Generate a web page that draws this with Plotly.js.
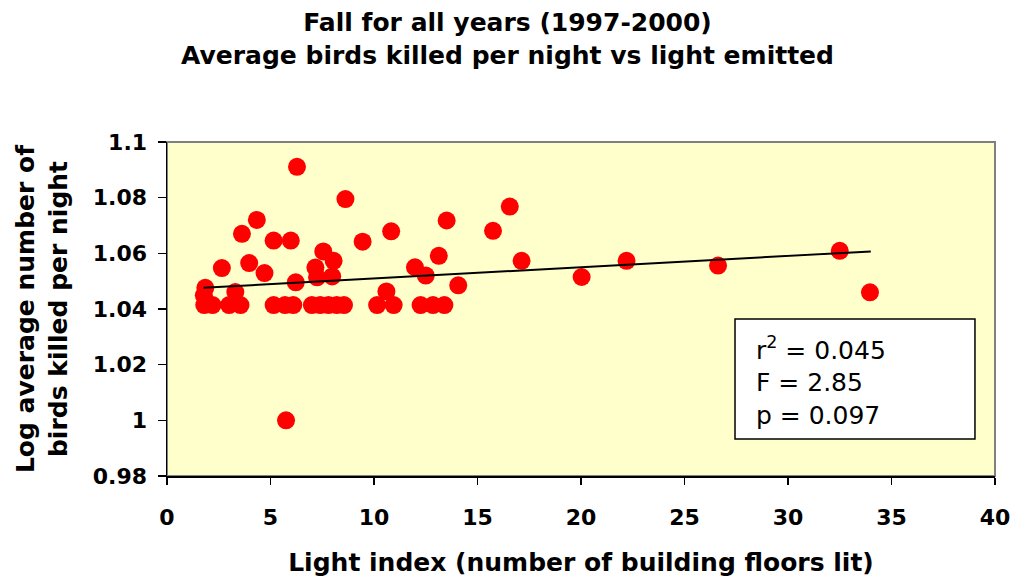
<!DOCTYPE html>
<html>
<head>
<meta charset="utf-8">
<script src="https://cdn.plot.ly/plotly-3.0.1.min.js"></script>
<style>html,body{margin:0;padding:0;background:#fff;}#chart{width:1015px;height:588px;}</style>
</head>
<body>
<div id="chart"></div>
<script>
// Light index (number of building floors lit)
var lightIndex = [
  1.8, 2.2, 3.0, 3.55, 5.15, 5.7, 6.1, 7.0, 7.4, 7.8, 8.2, 8.55, 10.15, 10.95, 12.25, 12.85, 13.4,
  1.85, 1.78, 2.65, 3.3, 3.62, 3.97, 4.34, 4.71, 5.15, 5.75, 5.98, 6.22, 6.28, 7.17, 7.25, 7.55,
  7.98, 8.05, 8.62, 9.45, 10.6, 10.83, 11.98, 12.5, 13.13, 13.51, 14.07, 15.75, 16.56, 17.13,
  20.03, 22.2, 26.62, 32.5, 33.96
];
// Log average number of birds killed per night
var logBirds = [
  1.0414, 1.0414, 1.0414, 1.0414, 1.0414, 1.0414, 1.0414, 1.0414, 1.0414, 1.0414, 1.0414, 1.0414, 1.0414, 1.0414, 1.0414, 1.0414, 1.0414,
  1.0476, 1.0449, 1.0547, 1.0461, 1.067, 1.0565, 1.072, 1.0529, 1.0646, 1.0, 1.0646, 1.0496, 1.0911, 1.0549, 1.0514, 1.0607,
  1.0517, 1.0573, 1.0795, 1.0642, 1.0463, 1.0679, 1.055, 1.052, 1.0591, 1.0718, 1.0485, 1.0681, 1.0768, 1.0573,
  1.0515, 1.0573, 1.0556, 1.0609, 1.046
];
// Linear trendline end points
var trendX = [1.76, 34.0];
var trendY = [1.0476, 1.0607];

var xTickVals = [0, 5, 10, 15, 20, 25, 30, 35, 40];
var yTickVals = [0.98, 1.0, 1.02, 1.04, 1.06, 1.08, 1.1];
var yTickText = ['0.98', '1', '1.02', '1.04', '1.06', '1.08', '1.1'];

var chartTitle = 'Fall for all years (1997-2000)<br>Average birds killed per night vs light emitted';
var xTitle = 'Light index (number of building floors lit)';
var yTitle = 'Log average number of<br>birds killed per night';
var statsText = 'r<sup>2</sup> = 0.045<br>F = 2.85<br>p = 0.097';

var FONT = 'DejaVu Sans, Arial, sans-serif';

var traces = [
  {
    x: lightIndex, y: logBirds, type: 'scatter', mode: 'markers',
    marker: {color: '#FF0000', size: 18, line: {width: 0}},
    hoverinfo: 'x+y', showlegend: false
  },
  {
    x: trendX, y: trendY, type: 'scatter', mode: 'lines',
    line: {color: '#000000', width: 2}, showlegend: false
  }
];

var layout = {
  width: 1015, height: 588,
  margin: {l: 167, r: 20, t: 142, b: 112},
  paper_bgcolor: '#FFFFFF',
  plot_bgcolor: '#FFFFCC',
  showlegend: false,
  title: {
    text: chartTitle,
    font: {family: FONT, size: 25, color: '#000', weight: 'bold'},
    x: 0.5, xanchor: 'center', xref: 'container',
    y: 1 - 31 / 588, yanchor: 'top', yref: 'container'
  },
  xaxis: {
    range: [0, 40],
    tickvals: xTickVals,
    ticks: 'outside', ticklen: 7, tickwidth: 1.5, tickcolor: '#000',
    showline: true, linecolor: '#000', linewidth: 1.5,
    showgrid: false, zeroline: false,
    tickfont: {family: FONT, size: 22, color: '#000', weight: 'bold'},
    ticklabelstandoff: 14,
    title: {text: xTitle, font: {family: FONT, size: 25, color: '#000', weight: 'bold'}, standoff: 24}
  },
  yaxis: {
    range: [0.98, 1.1],
    tickvals: yTickVals, ticktext: yTickText,
    ticks: 'outside', ticklen: 8, tickwidth: 1.5, tickcolor: '#000',
    showline: true, linecolor: '#000', linewidth: 1.5,
    showgrid: false, zeroline: false,
    tickfont: {family: FONT, size: 22, color: '#000', weight: 'bold'},
    ticklabelstandoff: 6,
    title: {text: yTitle, font: {family: FONT, size: 25, color: '#000', weight: 'bold'}, standoff: 18}
  },
  shapes: [
    {type: 'rect', xref: 'paper', yref: 'paper', x0: 0, x1: 1, y0: 0, y1: 1,
     line: {color: '#808080', width: 2}, fillcolor: 'rgba(0,0,0,0)', layer: 'below'},
    {type: 'rect', xref: 'paper', yref: 'paper', x0: 0.686, x1: 0.9758, y0: 0.1108, y1: 0.470,
     line: {color: '#000', width: 1.5}, fillcolor: '#FFFFFF', layer: 'above'}
  ],
  annotations: [
    {xref: 'paper', yref: 'paper', x: 0.7085, y: 0.2844, xanchor: 'left', yanchor: 'middle',
     text: statsText, showarrow: false, align: 'left',
     font: {family: FONT, size: 25, color: '#000'}}
  ]
};

Plotly.newPlot('chart', traces, layout, {staticPlot: true, displayModeBar: false});
</script>
</body>
</html>
